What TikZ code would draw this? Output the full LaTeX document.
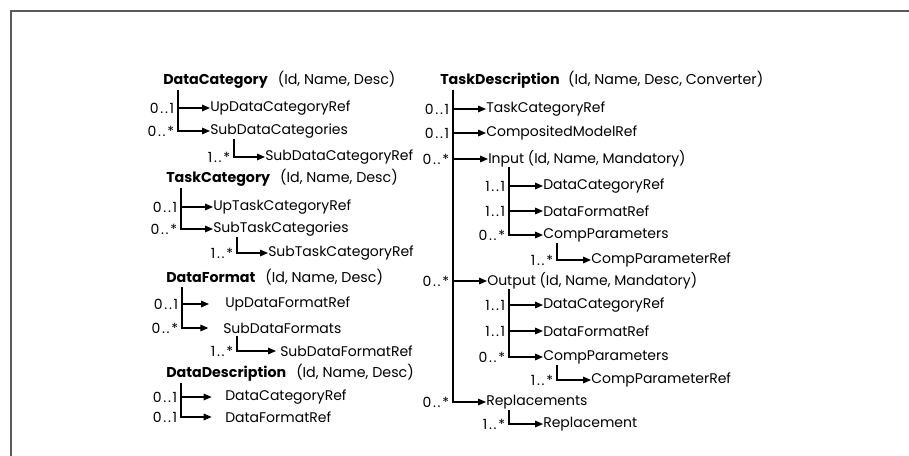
\documentclass[tikz,border=0pt]{standalone}
\usepackage{fontspec}
\setmainfont{Poppins}
\usetikzlibrary{arrows.meta,positioning,calc}

\newcommand{\card}[2]{#1\kern.12em.\kern.12em.\kern.12em#2}

\tikzset{
  title/.style={anchor=west, inner sep=0pt, font=\fontsize{10.7}{12}\selectfont},
  item/.style={anchor=west, inner sep=0pt, font=\fontsize{10.5}{12}\selectfont},
  mult/.style={anchor=east, inner sep=2.5pt, font=\fontsize{10.5}{11}\selectfont},
  link/.style={-{Triangle[length=6pt,width=5pt]}, line width=0.8pt},
  frame/.style={draw=black!65, line width=1.5pt},
}

\begin{document}
\begin{tikzpicture}[x=0.75pt, y=-0.75pt]
    \useasboundingbox (0,0) rectangle (909,456);
    \draw[frame] (11,456) -- (11,11) -- (909,11);

    % DataCategory
    \node[title] (dcat) at (163,80) {\textbf{DataCategory}\hspace{0.7em}(Id, Name, Desc)};
    \coordinate (dcat-top) at (178,90);
    \node[item] (dcatup) at (210,108) {UpDataCategoryRef};
    \node[item] (dcatsub) at (210,131) {SubDataCategories};
    \coordinate (dcatsub-top) at (234,139);
    \node[item] (dcatsubref) at (265,157) {SubDataCategoryRef};
    \draw[link] (dcat-top) |- node[mult] {\card{0}{1}} (dcatup.west);
    \draw[link] (dcat-top) |- node[mult] {\card{0}{*}} (dcatsub.west);
    \draw[link] (dcatsub-top) |- node[mult] {\card{1}{*}} (dcatsubref.west);

    % TaskCategory
    \node[title] (tcat) at (166,178) {\textbf{TaskCategory}\hspace{0.7em}(Id, Name, Desc)};
    \coordinate (tcat-top) at (181,188);
    \node[item] (tcatup) at (213,207) {UpTaskCategoryRef};
    \node[item] (tcatsub) at (213,229) {SubTaskCategories};
    \coordinate (tcatsub-top) at (237,237);
    \node[item] (tcatsubref) at (268,253) {SubTaskCategoryRef};
    \draw[link] (tcat-top) |- node[mult] {\card{0}{1}} (tcatup.west);
    \draw[link] (tcat-top) |- node[mult] {\card{0}{*}} (tcatsub.west);
    \draw[link] (tcatsub-top) |- node[mult] {\card{1}{*}} (tcatsubref.west);

    % DataFormat
    \node[title] (dfmt) at (166,277) {\textbf{DataFormat}\hspace{0.7em}(Id, Name, Desc)};
    \coordinate (dfmt-top) at (182,287);
    \node[item] (dfmtup) at (225,304) {UpDataFormatRef};
    \node[item] (dfmtsub) at (223,328) {SubDataFormats};
    \coordinate (dfmtsub-top) at (237,336);
    \node[item] (dfmtsubref) at (280,351) {SubDataFormatRef};
    \draw[link, shorten >=12pt] (dfmt-top) |- node[mult] {\card{0}{1}} (dfmtup.west);
    \draw[link, shorten >=11pt] (dfmt-top) |- node[mult] {\card{0}{*}} (dfmtsub.west);
    \draw[link, shorten >=3pt] (dfmtsub-top) |- node[mult] {\card{1}{*}} (dfmtsubref.west);

    % DataDescription
    \node[title] (ddesc) at (166,373) {\textbf{DataDescription}\hspace{0.7em}(Id, Name, Desc)};
    \coordinate (ddesc-top) at (181,383);
    \node[item] (ddcat) at (225,397) {DataCategoryRef};
    \node[item] (ddfmt) at (225,417) {DataFormatRef};
    \draw[link, shorten >=10pt] (ddesc-top) |- node[mult] {\card{0}{1}} (ddcat.west);
    \draw[link, shorten >=10pt] (ddesc-top) |- node[mult] {\card{0}{1}} (ddfmt.west);

    % TaskDescription
    \node[title] (tdesc) at (440,80) {\textbf{TaskDescription}\hspace{0.6em}(Id, Name, Desc, Converter)};
    \coordinate (tdesc-top) at (453,90);
    \node[item] (tdcat) at (486,109) {TaskCategoryRef};
    \node[item] (tdcomp) at (486,133) {CompositedModelRef};
    \node[item] (tdin) at (488,159) {Input (Id, Name, Mandatory)};
    \node[item] (tdout) at (487,281) {Output (Id, Name, Mandatory)};
    \node[item] (tdrep) at (486,402) {Replacements};
    \draw[link] (tdesc-top) |- node[mult] {\card{0}{1}} (tdcat.west);
    \draw[link] (tdesc-top) |- node[mult] {\card{0}{1}} (tdcomp.west);
    \draw[link] (tdesc-top) |- node[mult] {\card{0}{*}} (tdin.west);
    \draw[link] (tdesc-top) |- node[mult] {\card{0}{*}} (tdout.west);
    \draw[link] (tdesc-top) |- node[mult] {\card{0}{*}} (tdrep.west);

    % Input
    \coordinate (tdin-top) at (509,167);
    \node[item] (incat) at (543,186) {DataCategoryRef};
    \node[item] (infmt) at (543,211) {DataFormatRef};
    \node[item] (inpar) at (543,235) {CompParameters};
    \coordinate (inpar-top) at (557,243);
    \node[item] (inparref) at (591,260) {CompParameterRef};
    \draw[link] (tdin-top) |- node[mult] {\card{1}{1}} (incat.west);
    \draw[link] (tdin-top) |- node[mult] {\card{1}{1}} (infmt.west);
    \draw[link] (tdin-top) |- node[mult] {\card{0}{*}} (inpar.west);
    \draw[link] (inpar-top) |- node[mult] {\card{1}{*}} (inparref.west);

    % Output
    \coordinate (tdout-top) at (509,289);
    \node[item] (outcat) at (543,305) {DataCategoryRef};
    \node[item] (outfmt) at (543,331) {DataFormatRef};
    \node[item] (outpar) at (543,357) {CompParameters};
    \coordinate (outpar-top) at (557,365);
    \node[item] (outparref) at (591,380) {CompParameterRef};
    \draw[link] (tdout-top) |- node[mult] {\card{1}{1}} (outcat.west);
    \draw[link] (tdout-top) |- node[mult] {\card{1}{1}} (outfmt.west);
    \draw[link] (tdout-top) |- node[mult] {\card{0}{*}} (outpar.west);
    \draw[link] (outpar-top) |- node[mult] {\card{1}{*}} (outparref.west);

    % Replacements
    \coordinate (tdrep-top) at (509,410);
    \node[item] (reprep) at (543,424) {Replacement};
    \draw[link] (tdrep-top) |- node[mult] {\card{1}{*}} (reprep.west);
\end{tikzpicture}
\end{document}
